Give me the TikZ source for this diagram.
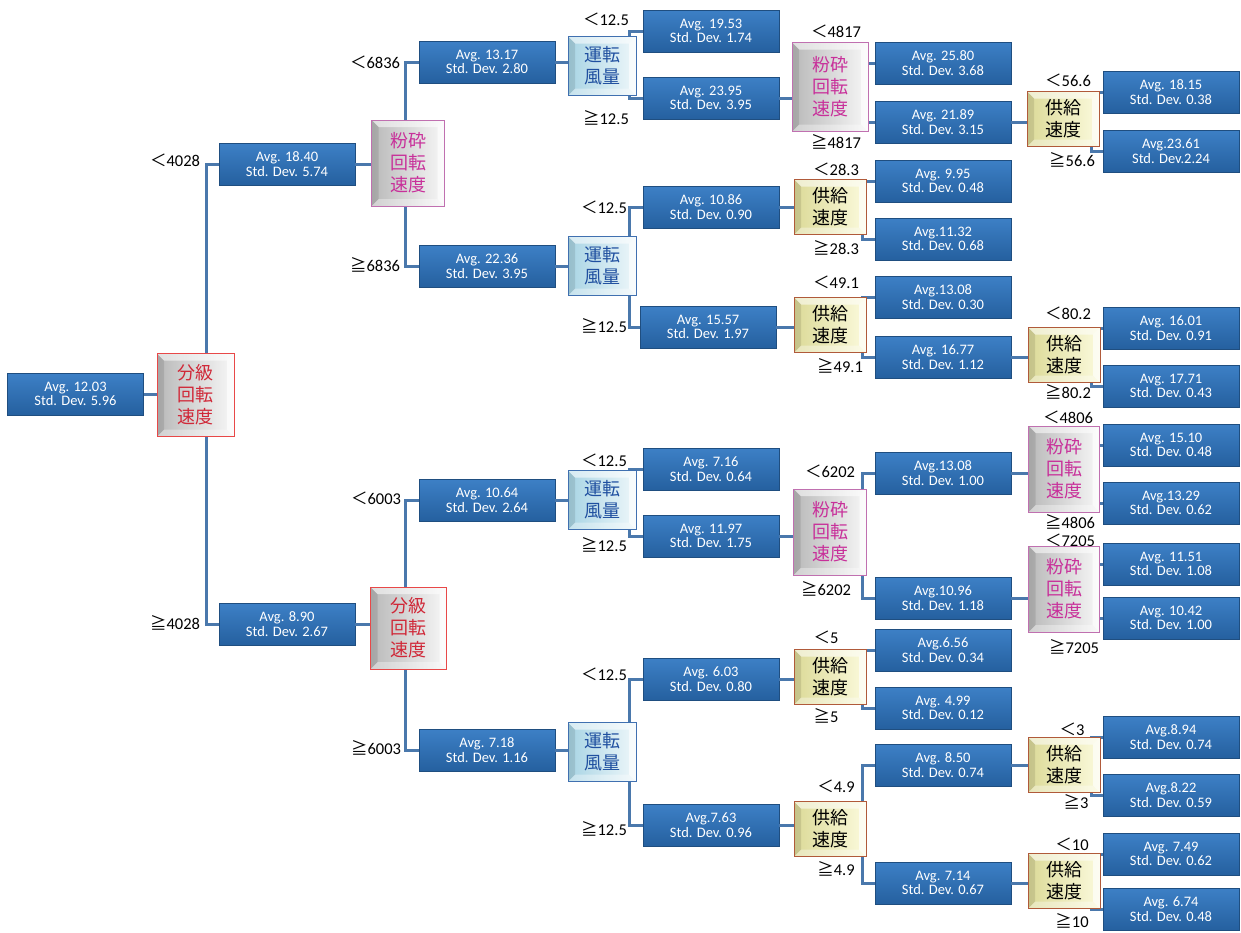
\documentclass[tikz,border=0pt]{standalone}
\usepackage{fontspec}
\setmainfont{Carlito}
\newfontfamily\jp{Noto Sans CJK JP}
\newcommand\myLT{{\jp ＜}}
\newcommand\myGE{{\jp ≧}}
\definecolor{conncol}{HTML}{4A78AC}
\definecolor{boxtop}{HTML}{3D80C6}
\definecolor{boxbot}{HTML}{25609F}
\definecolor{boxborder}{HTML}{1F4E80}
\definecolor{bunborder}{HTML}{E84848}
\definecolor{buntext}{HTML}{D02838}
\definecolor{funborder}{HTML}{C070B0}
\definecolor{funtext}{HTML}{C8309A}
\definecolor{unborder}{HTML}{4070B0}
\definecolor{unleft}{HTML}{A8D4E4}
\definecolor{unright}{HTML}{EEF7FA}
\definecolor{untext}{HTML}{2050A0}
\definecolor{kyoborder}{HTML}{B05A3A}
\definecolor{kyoleft}{HTML}{DCDA98}
\definecolor{kyoright}{HTML}{FBFADC}
\newcommand\bevelpic{%
  \path (path picture bounding box.north west) coordinate (bnw)
        (path picture bounding box.north east) coordinate (bne)
        (path picture bounding box.south west) coordinate (bsw)
        (path picture bounding box.south east) coordinate (bse);
  \fill[white,opacity=.55] (bnw) -- (bne) -- ([shift={(-7pt,-7pt)}]bne) -- ([shift={(7pt,-7pt)}]bnw) -- cycle;
  \fill[white,opacity=.65] (bne) -- (bse) -- ([shift={(-7pt,7pt)}]bse) -- ([shift={(-7pt,-7pt)}]bne) -- cycle;
  \fill[white,opacity=.35] (bse) -- (bsw) -- ([shift={(7pt,7pt)}]bsw) -- ([shift={(-7pt,7pt)}]bse) -- cycle;
  \fill[black,opacity=.10] (bsw) -- (bnw) -- ([shift={(7pt,-7pt)}]bnw) -- ([shift={(7pt,7pt)}]bsw) -- cycle;
}
\tikzset{
  conn/.style={draw=conncol, line width=3pt},
  res/.style={draw=boxborder, line width=0.6pt, top color=boxtop, bottom color=boxbot,
    text=white, minimum width=136pt, minimum height=42pt, inner sep=0pt, align=center,
    font=\fontsize{14.5}{14.5}\selectfont},
  decbase/.style={inner sep=0pt, align=center, line width=1pt,
    font=\jp\fontsize{18}{22}\selectfont, path picture={\bevelpic}},
  bun/.style={decbase, draw=bunborder, left color=gray!55, right color=gray!6, text=buntext,
    minimum width=77pt, minimum height=83pt},
  fun/.style={decbase, draw=funborder, left color=gray!55, right color=gray!6, text=funtext,
    minimum width=73pt, minimum height=86pt},
  un/.style={decbase, draw=unborder, left color=unleft, right color=unright, text=untext,
    minimum width=68pt, minimum height=59pt},
  kyo/.style={decbase, draw=kyoborder, left color=kyoleft, right color=kyoright, text=black,
    minimum width=72pt, minimum height=55pt},
  lbl/.style={inner sep=0pt, font=\fontsize{16.5}{17}\selectfont}
}
\newcommand\split[4]{% decision, vertical x coordinate, child1, child2
  \draw[conn] (#3.west) -- (#3.west -| #2) -- (#4.west -| #2) -- (#4.west);}
\begin{document}
\begin{tikzpicture}[x=1pt,y=-1pt]
\useasboundingbox (0,0) rectangle (1241,932);
% result boxes
\node[res] (r0) at (75.5,394) {Avg. 12.03\\Std. Dev. 5.96};
\node[res] (a1) at (287,164) {Avg. 18.40\\Std. Dev. 5.74};
\node[res] (a2) at (287,624) {Avg. 8.90\\Std. Dev. 2.67};
\node[res] (b1) at (487,62) {Avg. 13.17\\Std. Dev. 2.80};
\node[res] (b2) at (487,266) {Avg. 22.36\\Std. Dev. 3.95};
\node[res] (b3) at (487,500) {Avg. 10.64\\Std. Dev. 2.64};
\node[res] (b4) at (487,750) {Avg. 7.18\\Std. Dev. 1.16};
\node[res] (c1) at (711,31) {Avg. 19.53\\Std. Dev. 1.74};
\node[res] (c2) at (711,98) {Avg. 23.95\\Std. Dev. 3.95};
\node[res] (c3) at (711,207) {Avg. 10.86\\Std. Dev. 0.90};
\node[res] (c4) at (708,327) {Avg. 15.57\\Std. Dev. 1.97};
\node[res] (c5) at (711,469) {Avg. 7.16\\Std. Dev. 0.64};
\node[res] (c6) at (711,536) {Avg. 11.97\\Std. Dev. 1.75};
\node[res] (c7) at (711,679) {Avg. 6.03\\Std. Dev. 0.80};
\node[res] (c8) at (711,825) {Avg.7.63\\Std. Dev. 0.96};
\node[res] (d1) at (943,63) {Avg. 25.80\\Std. Dev. 3.68};
\node[res] (d2) at (943,122) {Avg. 21.89\\Std. Dev. 3.15};
\node[res] (d3) at (943,181) {Avg. 9.95\\Std. Dev. 0.48};
\node[res] (d4) at (943,239) {Avg.11.32\\Std. Dev. 0.68};
\node[res] (d5) at (943,297) {Avg.13.08\\Std. Dev. 0.30};
\node[res] (d6) at (943,357) {Avg. 16.77\\Std. Dev. 1.12};
\node[res] (d7) at (943,473) {Avg.13.08\\Std. Dev. 1.00};
\node[res] (d8) at (943,598) {Avg.10.96\\Std. Dev. 1.18};
\node[res] (d9) at (943,650) {Avg.6.56\\Std. Dev. 0.34};
\node[res] (d10) at (943,708) {Avg. 4.99\\Std. Dev. 0.12};
\node[res] (d11) at (943,765) {Avg. 8.50\\Std. Dev. 0.74};
\node[res] (d12) at (943,883) {Avg. 7.14\\Std. Dev. 0.67};
\node[res] (e1) at (1171,92) {Avg. 18.15\\Std. Dev. 0.38};
\node[res] (e2) at (1171,151) {Avg.23.61\\Std. Dev.2.24};
\node[res] (e3) at (1171,328) {Avg. 16.01\\Std. Dev. 0.91};
\node[res] (e4) at (1171,386) {Avg. 17.71\\Std. Dev. 0.43};
\node[res] (e5) at (1171,445) {Avg. 15.10\\Std. Dev. 0.48};
\node[res] (e6) at (1171,503) {Avg.13.29\\Std. Dev. 0.62};
\node[res] (e7) at (1171,564) {Avg. 11.51\\Std. Dev. 1.08};
\node[res] (e8) at (1171,618) {Avg. 10.42\\Std. Dev. 1.00};
\node[res] (e9) at (1171,737) {Avg.8.94\\Std. Dev. 0.74};
\node[res] (e10) at (1171,795) {Avg.8.22\\Std. Dev. 0.59};
\node[res] (e11) at (1171,854) {Avg. 7.49\\Std. Dev. 0.62};
\node[res] (e12) at (1171,909) {Avg. 6.74\\Std. Dev. 0.48};
% split coordinates
\coordinate (vR) at (206,0);
\coordinate (vP) at (405,0);
\coordinate (vU) at (629,0);
\coordinate (vM) at (862,0);
\coordinate (vE) at (1091,0);
% connectors (drawn before decision nodes)
\path (195.5,395) coordinate (pR) (408,163) coordinate (pP1) (408.5,628) coordinate (pP2)
      (602,66) coordinate (pU1) (602,266) coordinate (pU2) (602,500) coordinate (pU3) (602,752) coordinate (pU4)
      (830,87) coordinate (pQ1) (830,532) coordinate (pQ2) (1064,469) coordinate (pQ3) (1064,589) coordinate (pQ4)
      (830,207) coordinate (pS1) (830,325) coordinate (pS2) (830,677) coordinate (pS3) (830,829) coordinate (pS4)
      (1063,119) coordinate (pS5) (1064,355) coordinate (pS6) (1064,765) coordinate (pS7) (1064,881) coordinate (pS8);
\draw[conn] (r0.east) -- (r0.east -| pR);
\draw[conn] (a1.east) -- (a1.east -| pP1);
\draw[conn] (a2.east) -- (a2.east -| pP2);
\draw[conn] (b1.east) -- (b1.east -| pU1);
\draw[conn] (b2.east) -- (b2.east -| pU2);
\draw[conn] (b3.east) -- (b3.east -| pU3);
\draw[conn] (b4.east) -- (b4.east -| pU4);
\draw[conn] (c2.east) -- (c2.east -| pQ1);
\draw[conn] (c3.east) -- (c3.east -| pS1);
\draw[conn] (c4.east) -- (c4.east -| pS2);
\draw[conn] (c6.east) -- (c6.east -| pQ2);
\draw[conn] (c7.east) -- (c7.east -| pS3);
\draw[conn] (c8.east) -- (c8.east -| pS4);
\draw[conn] (d2.east) -- (d2.east -| pS5);
\draw[conn] (d6.east) -- (d6.east -| pS6);
\draw[conn] (d7.east) -- (d7.east -| pQ3);
\draw[conn] (d8.east) -- (d8.east -| pQ4);
\draw[conn] (d11.east) -- (d11.east -| pS7);
\draw[conn] (d12.east) -- (d12.east -| pS8);
\split{R}{vR}{a1}{a2}
\split{P1}{vP}{b1}{b2}
\split{P2}{vP}{b3}{b4}
\split{U1}{vU}{c1}{c2}
\split{U2}{vU}{c3}{c4}
\split{U3}{vU}{c5}{c6}
\split{U4}{vU}{c7}{c8}
\split{Q1}{vM}{d1}{d2}
\split{S1}{vM}{d3}{d4}
\split{S2}{vM}{d5}{d6}
\split{Q2}{vM}{d7}{d8}
\split{S3}{vM}{d9}{d10}
\split{S4}{vM}{d11}{d12}
\split{S5}{vE}{e1}{e2}
\split{S6}{vE}{e3}{e4}
\split{Q3}{vE}{e5}{e6}
\split{Q4}{vE}{e7}{e8}
\split{S7}{vE}{e9}{e10}
\split{S8}{vE}{e11}{e12}
% decision nodes
\node[bun] (R) at (pR) {分級\\回転\\速度};
\node[fun] (P1) at (pP1) {粉砕\\回転\\速度};
\node[bun, minimum width=76pt, minimum height=82pt] (P2) at (pP2) {分級\\回転\\速度};
\node[un] (U1) at (pU1) {運転\\風量};
\node[un] (U2) at (pU2) {運転\\風量};
\node[un] (U3) at (pU3) {運転\\風量};
\node[un] (U4) at (pU4) {運転\\風量};
\node[fun, minimum width=76pt, minimum height=89pt] (Q1) at (pQ1) {粉砕\\回転\\速度};
\node[fun] (Q2) at (pQ2) {粉砕\\回転\\速度};
\node[fun, minimum width=71pt] (Q3) at (pQ3) {粉砕\\回転\\速度};
\node[fun, minimum width=71pt] (Q4) at (pQ4) {粉砕\\回転\\速度};
\node[kyo] (S1) at (pS1) {供給\\速度};
\node[kyo] (S2) at (pS2) {供給\\速度};
\node[kyo] (S3) at (pS3) {供給\\速度};
\node[kyo] (S4) at (pS4) {供給\\速度};
\node[kyo] (S5) at (pS5) {供給\\速度};
\node[kyo] (S6) at (pS6) {供給\\速度};
\node[kyo] (S7) at (pS7) {供給\\速度};
\node[kyo] (S8) at (pS8) {供給\\速度};
% labels
\node[lbl] (l1) at (175,160) {\myLT4028};
\node[lbl] (l2) at (175,623) {\myGE4028};
\node[lbl] (l3) at (375,62) {\myLT6836};
\node[lbl] (l4) at (375,265) {\myGE6836};
\node[lbl] (l5) at (606,19) {\myLT12.5};
\node[lbl] (l6) at (606,118) {\myGE12.5};
\node[lbl] (l7) at (836,31) {\myLT4817};
\node[lbl] (l8) at (836,142) {\myGE4817};
\node[lbl] (l9) at (1068,80) {\myLT56.6};
\node[lbl] (l10) at (1072,160) {\myGE56.6};
\node[lbl] (l11) at (604,207) {\myLT12.5};
\node[lbl] (l12) at (604,326) {\myGE12.5};
\node[lbl] (l13) at (836,169) {\myLT28.3};
\node[lbl] (l14) at (836,248) {\myGE28.3};
\node[lbl] (l15) at (836,282) {\myLT49.1};
\node[lbl] (l16) at (840,366) {\myGE49.1};
\node[lbl] (l17) at (1068,313) {\myLT80.2};
\node[lbl] (l18) at (1068,392) {\myGE80.2};
\node[lbl] (l19) at (376,498) {\myLT6003};
\node[lbl] (l20) at (376,748) {\myGE6003};
\node[lbl] (l21) at (604,460) {\myLT12.5};
\node[lbl] (l22) at (604,545) {\myGE12.5};
\node[lbl] (l23) at (830,471) {\myLT6202};
\node[lbl] (l24) at (826,589) {\myGE6202};
\node[lbl] (l25) at (1068,417) {\myLT4806};
\node[lbl] (l26) at (1070,522) {\myGE4806};
\node[lbl] (l27) at (1070,540) {\myLT7205};
\node[lbl] (l28) at (1074,647) {\myGE7205};
\node[lbl] (l29) at (604,674) {\myLT12.5};
\node[lbl] (l30) at (604,829) {\myGE12.5};
\node[lbl] (l31) at (826,637) {\myLT5};
\node[lbl] (l32) at (826,716) {\myGE5};
\node[lbl] (l33) at (836,786) {\myLT4.9};
\node[lbl] (l34) at (836,869) {\myGE4.9};
\node[lbl] (l35) at (1072,729) {\myLT3};
\node[lbl] (l36) at (1076,802) {\myGE3};
\node[lbl] (l37) at (1072,844) {\myLT10};
\node[lbl] (l38) at (1072,921) {\myGE10};
\end{tikzpicture}
\end{document}
